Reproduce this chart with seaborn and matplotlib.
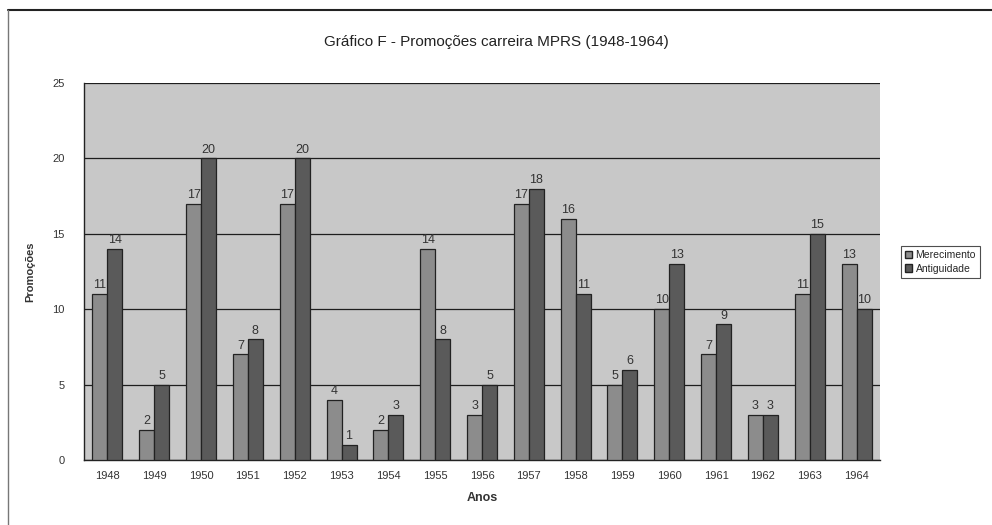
import matplotlib
matplotlib.use("Agg")
import matplotlib.pyplot as plt
from matplotlib.lines import Line2D
from matplotlib.patches import Patch
import seaborn as sns
import pandas as pd

years = ["1948", "1949", "1950", "1951", "1952", "1953", "1954", "1955", "1956",
         "1957", "1958", "1959", "1960", "1961", "1962", "1963", "1964"]
merecimento = [11, 2, 17, 7, 17, 4, 2, 14, 3, 17, 16, 5, 10, 7, 3, 11, 13]
antiguidade = [14, 5, 20, 8, 20, 1, 3, 8, 5, 18, 11, 6, 13, 9, 3, 15, 10]
series_names = ["Merecimento", "Antiguidade"]
colors = ["#8c8c8c", "#5a5a5a"]

df = pd.DataFrame({
    "Anos": years * 2,
    "Promoções": merecimento + antiguidade,
    "Série": [series_names[0]] * len(years) + [series_names[1]] * len(years),
})

sns.set_style("white")
plt.rcParams["font.family"] = ["Liberation Sans", "DejaVu Sans"]

fig = plt.figure(figsize=(9.92, 5.25), dpi=100)
ax = fig.add_axes([84 / 992, 65 / 525, (880 - 84) / 992, (460 - 83) / 525])
ax.set_facecolor("#c8c8c8")

sns.barplot(data=df, x="Anos", y="Promoções", hue="Série", palette=colors,
            width=0.64, edgecolor="#222222", linewidth=0.9, ax=ax,
            legend=False, zorder=3)

ax.set_ylim(0, 25)
ax.set_yticks([0, 5, 10, 15, 20, 25])
ax.grid(axis="y", color="#1e1e1e", linewidth=0.9, zorder=1)
ax.set_axisbelow(True)
for s in ["top", "right"]:
    ax.spines[s].set_visible(False)
for s in ["left", "bottom"]:
    ax.spines[s].set_color("#222222")
    ax.spines[s].set_linewidth(1.0)
ax.tick_params(axis="both", labelsize=8, colors="#444444", length=4,
               direction="out", width=0.8)
ax.tick_params(axis="both", labelcolor="#333333")
ax.tick_params(axis="y", pad=10)
ax.set_xticks([i + 0.5 for i in range(-1, len(years))], minor=True)
ax.tick_params(axis="x", which="major", length=0, pad=8)
ax.tick_params(axis="x", which="minor", length=4, color="#222222")

for cont in ax.containers:
    ax.bar_label(cont, fmt="%d", fontsize=9, color="#333333", padding=2)

ax.set_xlabel("Anos", fontsize=9, fontweight="bold", color="#333333", labelpad=8)
ax.set_ylabel("Promoções", fontsize=8, fontweight="bold", color="#333333", labelpad=12)

fig.text(0.5, 1 - 42 / 525, "Gráfico F - Promoções carreira MPRS (1948-1964)",
         ha="center", va="center", fontsize=11, color="#222222")

handles = [Patch(facecolor=c, edgecolor="#222222", label=n) for c, n in zip(colors, series_names)]
leg = fig.legend(handles=handles, loc="center left", bbox_to_anchor=(901 / 992, 1 - 262 / 525),
                 fontsize=7.5, frameon=True, fancybox=False, edgecolor="#222222",
                 handlelength=0.7, handleheight=0.7, handletextpad=0.3,
                 borderpad=0.4, labelspacing=0.3, borderaxespad=0)
leg.get_frame().set_linewidth(0.8)

fig.add_artist(Line2D([8 / 992, 1], [1 - 10 / 525, 1 - 10 / 525], color="#222222", lw=1.5))
fig.add_artist(Line2D([8 / 992, 8 / 992], [0, 1 - 10 / 525], color="#777777", lw=1.0))

fig.savefig("out.png", dpi=100)
